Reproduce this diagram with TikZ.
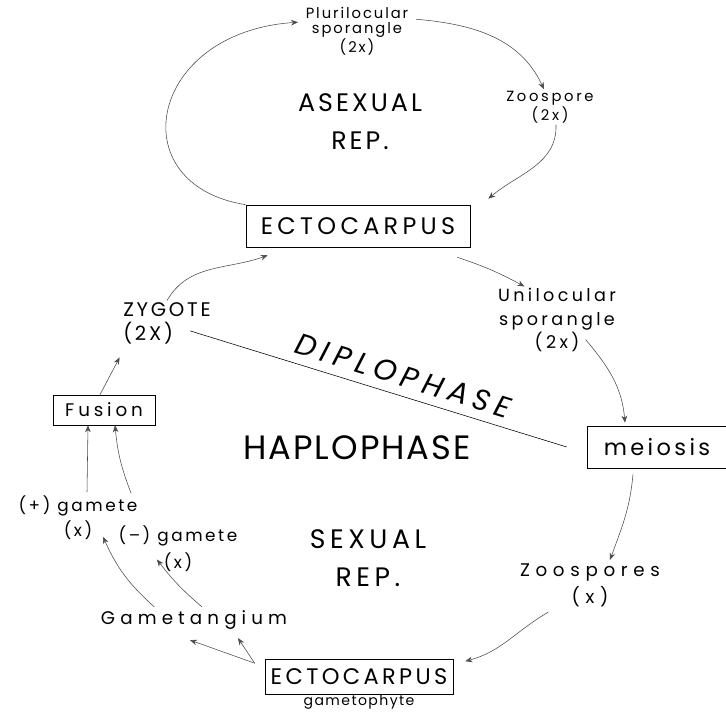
\documentclass[tikz,border=0pt]{standalone}
\usepackage{fontspec}
\setmainfont{Poppins}
\usetikzlibrary{arrows.meta,positioning,calc}

\begin{document}
\begin{tikzpicture}[
  x=0.025cm, y=-0.025cm,
  font=\fontsize{11}{13}\selectfont,
  box/.style={draw, thin, inner sep=2pt},
  lbl/.style={align=center, inner sep=1pt},
  >={Stealth[length=5pt,width=4pt]},
  cyc/.style={draw=black!70, thin, ->},
]
\useasboundingbox (0,0) rectangle (726,715);

% asexual loop
\node[box, minimum width=5.6cm, minimum height=1.05cm, font=\fontsize{17}{20}\selectfont\addfontfeature{LetterSpace=18}] (ectoT) at (358,226) {ECTOCARPUS};
\node[lbl, font=\fontsize{10.5}{10.7}\selectfont\addfontfeature{LetterSpace=13}] (pluri) at (357,31) {Plurilocular\\sporangle\\(2x)};
\node[lbl, font=\fontsize{10.5}{11}\selectfont\addfontfeature{LetterSpace=18}] (zoo2) at (550,107) {Zoospore\\(2x)};
\node[lbl, font=\fontsize{18}{27}\selectfont\addfontfeature{LetterSpace=12}] (asex) at (360,122) {ASEXUAL\\REP.};

\draw[cyc] (ectoT.north west) .. controls +(-126,-20) and +(-150,10) .. ($(pluri.north west)+(-6,17)$);
\draw[cyc] ($(pluri.north east)+(6,14)$) to[out=-5, in=115] ($(zoo2.north)+(-6,0)$);
\draw[cyc] ($(zoo2.south)+(6,0)$) to[out=-88, in=40] ($(ectoT.north east)+(18,-6)$);

% diplophase
\node[lbl, align=left, font=\fontsize{14}{17}\selectfont\addfontfeature{LetterSpace=14}] (zyg) at (167,323) {ZYGOTE\\(2X)};
\node[lbl, font=\fontsize{12.5}{16.7}\selectfont\addfontfeature{LetterSpace=19}] (uni) at (557,320) {Unilocular\\sporangle\\(2x)};
\node[box, minimum width=3.5cm, minimum height=1.05cm, font=\fontsize{16}{18}\selectfont\addfontfeature{LetterSpace=15}] (meio) at (657,447) {meiosis};
\node[box, minimum width=2.55cm, minimum height=0.75cm, font=\fontsize{13}{15}\selectfont\addfontfeature{LetterSpace=21}] (fus) at (104,410) {Fusion};

\draw[cyc] (zyg.north) to[out=60, in=200] ($(ectoT.south west)+(22,8)$);
\draw[cyc] ($(ectoT.south east)+(-13,10)$) to[bend left=5] ($(uni.north west)+(28,0)$);
\draw[cyc] ($(uni.south east)+(-32,-14)$) to[out=-50, in=95] ($(meio.north)+(-32,-3)$);
\draw[thin] ($(zyg.east)+(-22,8)$) -- node[sloped, above=3pt, pos=0.55, font=\itshape\fontsize{21}{23}\selectfont\addfontfeature{LetterSpace=20}] (diplo) {DIPLOPHASE} ($(meio.west)+(-20,0)$);
\draw[cyc] ($(fus.north)+(-4,0)$) -- ($(zyg.south west)+(-2,12)$);

% haplophase
\node[lbl, font=\fontsize{24}{28}\selectfont\addfontfeature{LetterSpace=6}] (haplo) at (357,448) {HAPLOPHASE};
\node[lbl, font=\fontsize{19}{27}\selectfont\addfontfeature{LetterSpace=17}] (sex) at (368,558) {SEXUAL\\REP.};
\node[lbl, font=\fontsize{13}{19}\selectfont\addfontfeature{LetterSpace=31}] (zoos) at (590,585) {Zoospores\\(x)};
\node[box, minimum width=4.7cm, minimum height=0.875cm, font=\fontsize{16}{18}\selectfont\addfontfeature{LetterSpace=15}] (ectoB) at (359,677) {ECTOCARPUS};
\node[lbl, below=0pt of ectoB, inner sep=0pt, font=\fontsize{10}{11}\selectfont\addfontfeature{LetterSpace=10}] (gphyte) {gametophyte};
\node[lbl, font=\fontsize{13}{15}\selectfont\addfontfeature{LetterSpace=28}] (gtg) at (194,620) {Gametangium};
\node[lbl, font=\fontsize{12}{18}\selectfont\addfontfeature{LetterSpace=15}] (pgam) at (78,518) {(+) gamete\\(x)};
\node[lbl, font=\fontsize{12}{19}\selectfont\addfontfeature{LetterSpace=15}] (mgam) at (178,549) {(--) gamete\\(x)};

\draw[cyc] ($(meio.south)+(-24,6)$) to[out=-95, in=70] ($(zoos.north)+(20,-2)$);
\draw[cyc] ($(zoos.south west)+(30,4)$) to[out=-150, in=15] ($(ectoB.north east)+(12,2)$);
\draw[cyc] ($(ectoB.north west)+(-10,4)$) -- ($(gtg.south)+(-4,9)$);
\draw[cyc] ($(ectoB.north west)+(-10,4)$) -- ($(gtg.south)+(44,7)$);
\draw[cyc] ($(gtg.north west)+(55,-2)$) to[bend left=12] ($(pgam.south)+(25,-5)$);
\draw[cyc] ($(gtg.north)+(8,-2)$) to[bend left=6] ($(mgam.south west)+(40,-14)$);
\draw[cyc] ($(pgam.north)+(9,-2)$) -- ($(fus.south)+(-16,0)$);
\draw[cyc] ($(pgam.north east)+(-8,-1)$) to[bend left=8] ($(fus.south)+(11,0)$);
\end{tikzpicture}
\end{document}
